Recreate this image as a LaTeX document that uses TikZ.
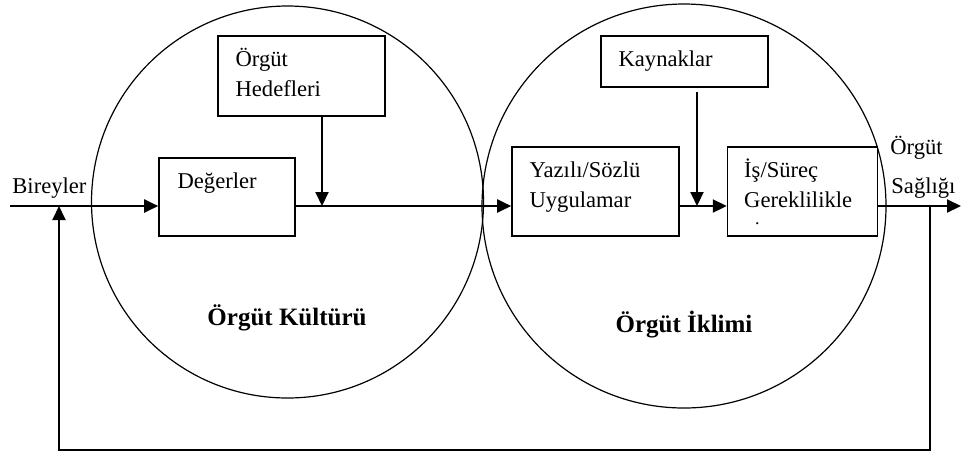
\documentclass[tikz,border=0pt]{standalone}
\usepackage{fontspec}
\setmainfont{Liberation Serif}
\usetikzlibrary{positioning,arrows.meta}

\begin{document}
\begin{tikzpicture}[x=0.5pt, y=-0.5pt, >={Triangle[length=7pt,width=6.5pt]},
    font=\fontsize{11.3}{15}\selectfont,
    alan/.style={circle, draw, line width=0.6pt, minimum size=#1, inner sep=0pt},
    kutu/.style 2 args={draw, line width=0.8pt, minimum width=#1, minimum height=#2, inner sep=0pt},
    yazi/.style={align=left, inner sep=0pt},
    baslik/.style={font=\fontsize{12.5}{15}\selectfont\bfseries, anchor=base},
    ok/.style={->, line width=1pt}]

    \useasboundingbox (0,0) rectangle (961,452);

    \node[alan=196pt] (kultur) at (287.5,202) {};
    \node[alan=202pt] (iklim) at (684,206) {};

    \node[kutu={83.5pt}{40pt}] (hedef) at (301.5,76) {};
    \node[kutu={68pt}{39pt}] (deger) at (227,197) {};
    \node[kutu={83.5pt}{25.5pt}] (kaynak) at (684.5,61.5) {};
    \node[kutu={83.5pt}{44.5pt}] (yazili) at (595.5,191.5) {};
    \node[kutu={75pt}{44.5pt}] (surec) [right=23.5pt of yazili] {};

    \node[yazi] (hedef yazi) [below right=4.5pt and 9pt of hedef.north west] {\rule{0pt}{11pt}Örgüt\\Hedefleri};
    \node[yazi] (deger yazi) [below right=4.5pt and 9.5pt of deger.north west] {\rule{0pt}{11pt}Değerler};
    \node[yazi] (kaynak yazi) [below right=4.5pt and 9pt of kaynak.north west] {\rule{0pt}{11pt}Kaynaklar};
    \node[yazi] (yazili yazi) [below right=4.5pt and 9pt of yazili.north west] {\rule{0pt}{11pt}Yazılı/Sözlü\\Uygulamar};
    \node[yazi] (surec yazi) [below right=4.5pt and 8.5pt of surec.north west] {\rule{0pt}{11pt}İş/Süreç\\Gereklilikle\\[-6.5pt]\hspace*{5.5pt}{\small .}};

    \node[anchor=base west, inner sep=0pt] (bireyler) at (12,193) {Bireyler};
    \node[anchor=base west, inner sep=0pt] (orgut) at (890,154) {Örgüt};
    \node[anchor=base west, inner sep=0pt] (saglik) at (891,193) {Sağlığı};

    \node[baslik] (kultur yazi) at (287,325) {Örgüt Kültürü};
    \node[baslik] (iklim yazi) at (684,332) {Örgüt İklimi};

    \coordinate (giris) at (10,206);
    \coordinate (hok) at (322,206);
    \coordinate (kbas) at (697,92);
    \coordinate (kok) at (697,206);
    \coordinate (geri) at (930,206);
    \coordinate (cikis) at (961,206);
    \coordinate (alt) at (59,450);
    \coordinate (donus) at (59,206);

    \draw[ok] (giris) -- (giris -| deger.west);
    \draw[ok] (deger.east |- giris) -- (giris -| yazili.west);
    \draw[ok] (hok |- hedef.south) -- (hok);
    \draw[ok] (kbas) -- (kok);
    \draw[ok] (yazili.east |- giris) -- (giris -| surec.west);
    \draw[ok] (surec.east |- giris) -- (cikis);
    \draw[ok] (geri) |- (alt) -- (donus);

\end{tikzpicture}
\end{document}
